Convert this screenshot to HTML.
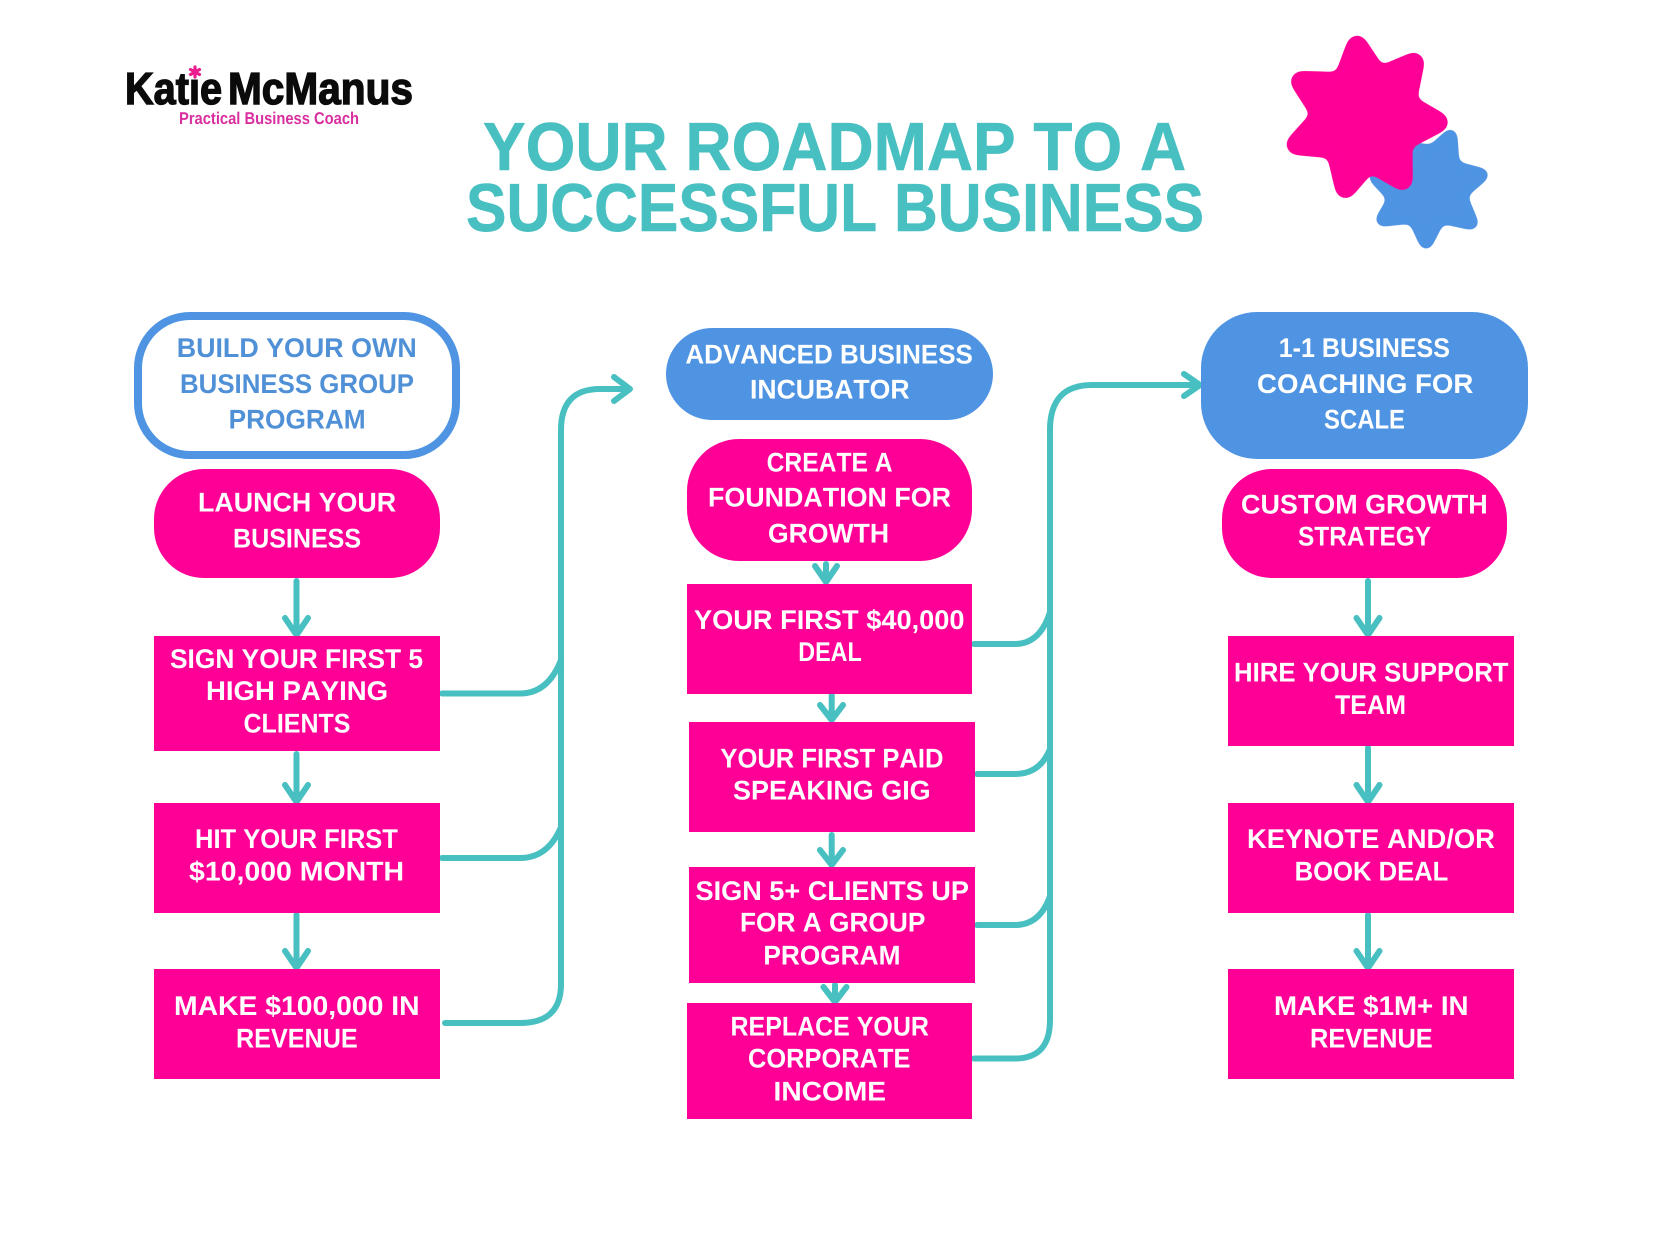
<!DOCTYPE html>
<html lang="en">
<head>
<meta charset="utf-8">
<title>Your Roadmap to a Successful Business</title>
<style>
html,body{margin:0;padding:0;background:#fff;width:1664px;height:1248px;overflow:hidden}
svg{display:block}
text{font-family:"Liberation Sans",sans-serif;font-weight:700;text-rendering:geometricPrecision;font-kerning:none}
.w{fill:#fff;font-size:27px}
.b{fill:#4f90d6;font-size:27px}
.t{fill:#48bfc0;font-size:68px;stroke:#48bfc0;stroke-width:.6px}
.c{fill:none;stroke:#48bfc0;stroke-width:6;stroke-linecap:round;stroke-linejoin:round}
</style>
</head>
<body>
<svg width="1664" height="1248" viewBox="0 0 1664 1248" xmlns="http://www.w3.org/2000/svg">
<defs>
<filter id="soft" filterUnits="userSpaceOnUse" x="1260" y="10" width="260" height="250" color-interpolation-filters="sRGB">
<feGaussianBlur stdDeviation="3.6"/>
<feColorMatrix type="matrix" values="1 0 0 0 0 0 1 0 0 0 0 0 1 0 0 0 0 0 14 -5.6"/>
</filter>
</defs>
<rect width="1664" height="1248" fill="#fff"/>

<!-- logo -->
<text transform="translate(125 104) scale(.882 1)" font-size="45" fill="#0b0b0b" stroke="#0b0b0b" stroke-width="1.4">Katie</text>
<text transform="translate(228 104) scale(.902 1)" font-size="45" fill="#0b0b0b" stroke="#0b0b0b" stroke-width="1.4">McManus</text>
<circle cx="195" cy="72" r="6.500" fill="#fff"/>
<g stroke="#ec1c8e" stroke-width="3.2" stroke-linecap="round"><path d="M195 67V77M190.500 69.500L199.500 74.500M190.500 74.500L199.500 69.500"/></g>
<text transform="translate(179 124) scale(.866 1)" font-size="17" fill="#d92f9f">Practical Business Coach</text>

<!-- title -->
<text class="t" transform="translate(483 170) scale(.94 1)">YOUR ROADMAP TO A</text>
<text class="t" transform="translate(466 231) scale(.892 1)">SUCCESSFUL BUSINESS</text>

<!-- stars -->
<polygon filter="url(#soft)" fill="#4e94e3" stroke="#4e94e3" stroke-width="13" stroke-linejoin="round" points="1450.4,136 1452.6,167.4 1481.6,175 1459.4,194 1471.4,223 1439.4,216.2 1426.1,242.5 1414,216.2 1382.6,219.7 1395.4,198 1376,177.4 1398,182 1416.5,149.5 1432.4,152.4"/>
<polygon filter="url(#soft)" fill="#ff0097" stroke="#ff0097" stroke-width="20" stroke-linejoin="round" points="1357,45.8 1378.3,78 1413.8,62.9 1405.6,103.7 1437.7,122.3 1401.7,141.2 1402.3,180 1368.9,160.7 1345.5,188 1336.1,148.2 1296.7,144.5 1322.9,115.4 1301.1,81.5 1343.2,82.7"/>

<!-- connectors: left trunk -->
<path class="c" d="M445 1023H520Q561 1023 561 984V430Q561 389 600 389H628"/>
<path class="c" d="M614 377L630 389L614 401"/>
<path class="c" d="M442 693.5H520Q548 693.5 561 660"/>
<path class="c" d="M442 858H520Q548 858 561 827"/>
<!-- connectors: right trunk -->
<path class="c" d="M974 1058.5H1015Q1050 1058.5 1050 1020V430Q1050 385 1092 385H1198"/>
<path class="c" d="M1184 374L1200 385L1184 396"/>
<path class="c" d="M974 644H1015Q1040 644 1050 612"/>
<path class="c" d="M977 774H1015Q1040 774 1050 749"/>
<path class="c" d="M977 925H1015Q1040 925 1050 896"/>

<!-- vertical arrows -->
<path class="c" d="M296.5 581V634M285 618L296.5 635L308 618"/>
<path class="c" d="M296.5 754V801M285 785L296.5 802L308 785"/>
<path class="c" d="M296.5 915V967M285 951L296.5 968L308 951"/>
<path class="c" d="M1368 581V634M1356.500 618L1368 635L1379.500 618"/>
<path class="c" d="M1368 748V801M1356.500 785L1368 802L1379.500 785"/>
<path class="c" d="M1368 915V967M1356.500 951L1368 968L1379.500 951"/>
<path class="c" d="M826 564V581M815 566L826 582L837 566"/>
<path class="c" d="M831.700 695V719M820 705L831.700 720L843 705"/>
<path class="c" d="M831.700 835V863M820 850L831.700 865L843 850"/>
<path class="c" d="M835 985V1001M823.500 987L835 1002L846.500 987"/>

<!-- nodes left -->
<rect x="138" y="316" width="318" height="139" rx="52" fill="#fff" stroke="#4e94e3" stroke-width="8"/>
<rect x="154" y="469" width="286" height="109" rx="50" fill="#ff0097"/>
<rect x="154" y="636" width="286" height="115" fill="#ff0097"/>
<rect x="154" y="803" width="286" height="110" fill="#ff0097"/>
<rect x="154" y="969" width="286" height="110" fill="#ff0097"/>

<!-- nodes middle -->
<rect x="666" y="328" width="327" height="92" rx="46" fill="#4e94e3"/>
<rect x="687" y="439" width="285" height="122" rx="52" fill="#ff0097"/>
<rect x="687" y="584" width="285" height="110" fill="#ff0097"/>
<rect x="689" y="722" width="286" height="110" fill="#ff0097"/>
<rect x="689" y="867" width="286" height="116" fill="#ff0097"/>
<rect x="687" y="1003" width="285" height="116" fill="#ff0097"/>

<!-- nodes right -->
<rect x="1201" y="312" width="327" height="147" rx="56" fill="#4e94e3"/>
<rect x="1222" y="469" width="285" height="109" rx="50" fill="#ff0097"/>
<rect x="1228" y="636" width="286" height="110" fill="#ff0097"/>
<rect x="1228" y="803" width="286" height="110" fill="#ff0097"/>
<rect x="1228" y="969" width="286" height="110" fill="#ff0097"/>

<!-- labels left -->
<text class="b" transform="translate(176.7 357) scale(.994 1)">BUILD YOUR OWN</text>
<text class="b" transform="translate(180 393) scale(.957 1)">BUSINESS GROUP</text>
<text class="b" transform="translate(228.6 428.6) scale(.972 1)">PROGRAM</text>
<text class="w" transform="translate(198 511.7) scale(.993 1)">LAUNCH YOUR</text>
<text class="w" transform="translate(233 547.5) scale(.928 1)">BUSINESS</text>
<text class="w" transform="translate(170 667.8) scale(.975 1)">SIGN YOUR FIRST 5</text>
<text class="w" transform="translate(206 700) scale(1.02 1)">HIGH PAYING</text>
<text class="w" transform="translate(243.5 732.6) scale(.926 1)">CLIENTS</text>
<text class="w" transform="translate(195 848) scale(.946 1)">HIT YOUR FIRST</text>
<text class="w" transform="translate(189 880.7) scale(1.054 1)">$10,000 MONTH</text>
<text class="w" transform="translate(174 1014.8) scale(1.049 1)">MAKE $100,000 IN</text>
<text class="w" transform="translate(236 1047.4) scale(.932 1)">REVENUE</text>

<!-- labels middle -->
<text class="w" transform="translate(685.4 363.7) scale(.963 1)">ADVANCED BUSINESS</text>
<text class="w" transform="translate(750 398.7) scale(.985 1)">INCUBATOR</text>
<text class="w" transform="translate(766.6 471.5) scale(.913 1)">CREATE A</text>
<text class="w" transform="translate(708 506.6) scale(.994 1)">FOUNDATION FOR</text>
<text class="w" transform="translate(768 542.4) scale(.984 1)">GROWTH</text>
<text class="w" transform="translate(694 629) scale(1.007 1)">YOUR FIRST $40,000</text>
<text class="w" transform="translate(798.3 661.2) scale(.863 1)">DEAL</text>
<text class="w" transform="translate(720.4 767.6) scale(.947 1)">YOUR FIRST PAID</text>
<text class="w" transform="translate(733 799.5) scale(.998 1)">SPEAKING GIG</text>
<text class="w" transform="translate(695.5 899.8) scale(1.004 1)">SIGN 5+ CLIENTS UP</text>
<text class="w" transform="translate(740 931.6) scale(.973 1)">FOR A GROUP</text>
<text class="w" transform="translate(763.4 964.6) scale(.972 1)">PROGRAM</text>
<text class="w" transform="translate(730.5 1035.5) scale(.925 1)">REPLACE YOUR</text>
<text class="w" transform="translate(748 1067.7) scale(.942 1)">CORPORATE</text>
<text class="w" transform="translate(773.5 1100.7) scale(1.042 1)">INCOME</text>

<!-- labels right -->
<text class="w" transform="translate(1278.7 357) scale(.928 1)">1-1 BUSINESS</text>
<text class="w" transform="translate(1257 393) scale(1.023 1)">COACHING FOR</text>
<text class="w" transform="translate(1324 428.6) scale(.885 1)">SCALE</text>
<text class="w" transform="translate(1241 513.7) scale(.997 1)">CUSTOM GROWTH</text>
<text class="w" transform="translate(1298 545.6) scale(.905 1)">STRATEGY</text>
<text class="w" transform="translate(1234 681.3) scale(.953 1)">HIRE YOUR SUPPORT</text>
<text class="w" transform="translate(1335 714) scale(.928 1)">TEAM</text>
<text class="w" transform="translate(1247 848) scale(1.014 1)">KEYNOTE AND/OR</text>
<text class="w" transform="translate(1294.6 880.7) scale(.949 1)">BOOK DEAL</text>
<text class="w" transform="translate(1274 1014.8) scale(1.025 1)">MAKE $1M+ IN</text>
<text class="w" transform="translate(1310 1047.4) scale(.94 1)">REVENUE</text>
</svg>
</body>
</html>
